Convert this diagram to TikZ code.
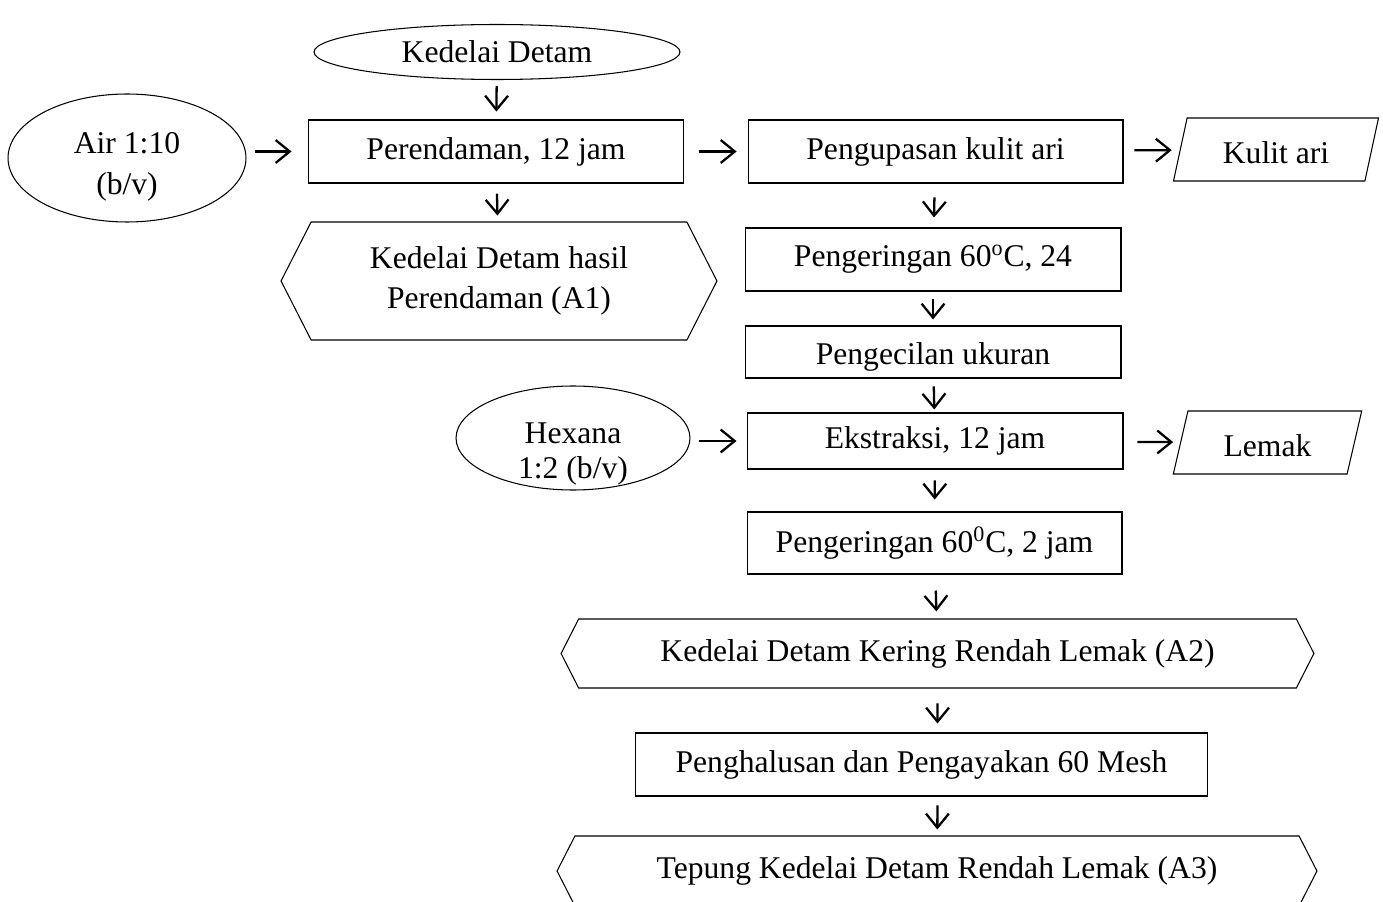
\documentclass[tikz,border=0pt]{standalone}
\usepackage{fontspec}
\setmainfont{Liberation Serif}
\usetikzlibrary{shapes.geometric,shapes.symbols,arrows.meta}
\tikzset{
	% box styles for the flow chart: steps, inputs, outputs and products
	process node/.style={rectangle,draw,line width=0.6pt,inner sep=1.5},
	input node/.style={ellipse,draw,line width=0.6pt,inner sep=0,align=center},
	output node/.style={trapezium,trapezium left angle=76,trapezium right angle=104,trapezium stretches=true,
		draw,line width=0.6pt,inner sep=1.5,minimum height=1.26cm,text depth=0pt,text height=16.5pt},
	product node/.style={signal,signal to=east and west,signal pointer angle=126,
		draw,line width=0.6pt,align=center,inner sep=1.5},
	flow/.style={-{Straight Barb[length=8pt,width=13pt]},line width=1.3pt}
}

\begin{document}
\begin{tikzpicture}[x=0.02cm, y=-0.02cm, font=\fontsize{18}{23}\selectfont]

  \clip (0,0) rectangle (1383,902);

  \node(kedelai) at (497,52) [input node, minimum width=7.32cm, minimum height=1.1cm]{Kedelai Detam};
  \node(air) at (127,158) [input node, minimum width=4.76cm, minimum height=2.56cm,
    label={[align=center, yshift=-5pt]center:Air 1:10\\(b/v)}]{};
  \node(rendam) at (496,151.5) [process node, minimum width=7.52cm, minimum height=1.26cm]{Perendaman, 12 jam};
  \node(a1) at (499,281) [product node, minimum width=8.72cm, minimum height=2.36cm]{Kedelai Detam hasil\\Perendaman (A1)};

  \path[flow] (kedelai) edge[shorten <=3.4pt, shorten >=4.5pt] (rendam);
  \path[flow] (air.east |- rendam) edge[shorten <=5.1pt, shorten >=9.1pt] (rendam);
  \path[flow] (rendam) edge[shorten <=5.7pt, shorten >=3.4pt] (a1);

  \node(kupas) at (935.5,151.5) [process node, minimum width=7.5cm, minimum height=1.26cm]{Pengupasan kulit ari};
  \node(kulit) at (1276,149.5) [output node, minimum width=4.12cm]{Kulit ari};
  \node(kering1) at (933,259.5) [process node, minimum width=7.52cm, minimum height=1.26cm]{Pengeringan 60\textsuperscript{o}C, 24};
  \node(kecil) at (933,352) [process node, minimum width=7.52cm, minimum height=1.04cm,
    text depth=0pt, text height=14.7pt]{Pengecilan ukuran};

  \path[flow] (rendam) edge[shorten <=8.5pt, shorten >=6.2pt] (kupas);
  \path[flow] (kupas) edge[shorten <=6.2pt, shorten >=4.5pt] (kulit);
  \path[flow] (kupas) edge[shorten <=7.9pt, shorten >=5.7pt] (kering1);
  \path[flow] (kering1) edge[shorten <=4pt, shorten >=3.4pt] (kecil);

  \node(hexana) at (573,438) [input node, minimum width=4.68cm, minimum height=2.08cm,
    label={[align=center, font=\fontsize{18}{20}\selectfont, yshift=-9pt]center:Hexana\\1:2 (b/v)}]{};
  \node(ekstrak) at (935,441) [process node, minimum width=7.52cm, minimum height=1.12cm]{Ekstraksi, 12 jam};
  \node(lemak) at (1267.5,442.5) [output node, minimum width=3.78cm]{Lemak};
  \node(kering2) at (934.5,543) [process node, minimum width=7.5cm, minimum height=1.24cm]{Pengeringan 60\textsuperscript{0}C, 2 jam};

  \path[flow] (kecil) edge[shorten <=4.5pt, shorten >=1.7pt] (ekstrak);
  \path[flow] (hexana.east |- ekstrak) edge[shorten <=5.1pt, shorten >=5.7pt] (ekstrak);
  \path[flow] (ekstrak) edge[shorten <=7.9pt, shorten >=4pt] (lemak);
  \path[flow] (ekstrak) edge[shorten <=6.2pt, shorten >=6.8pt] (kering2);

  \node(a2) at (937.5,653.5) [product node, minimum width=15.06cm, minimum height=1.38cm]{Kedelai Detam Kering Rendah Lemak (A2)};
  \node(halus) at (921.5,764.5) [process node, minimum width=11.44cm, minimum height=1.26cm]{Penghalusan dan Pengayakan 60 Mesh};
  \node(a3) at (937,871) [product node, minimum width=15.2cm, minimum height=1.4cm]{Tepung Kedelai Detam Rendah Lemak (A3)};

  \path[flow] (kering2) edge[shorten <=9.1pt, shorten >=4pt] (a2);
  \path[flow] (a2) edge[shorten <=8.5pt, shorten >=5.1pt] (a2 |- halus.north);
  \path[flow] (a2 |- halus.south) edge[shorten <=5.1pt, shorten >=3.4pt] (a3);

\end{tikzpicture}
\end{document}
